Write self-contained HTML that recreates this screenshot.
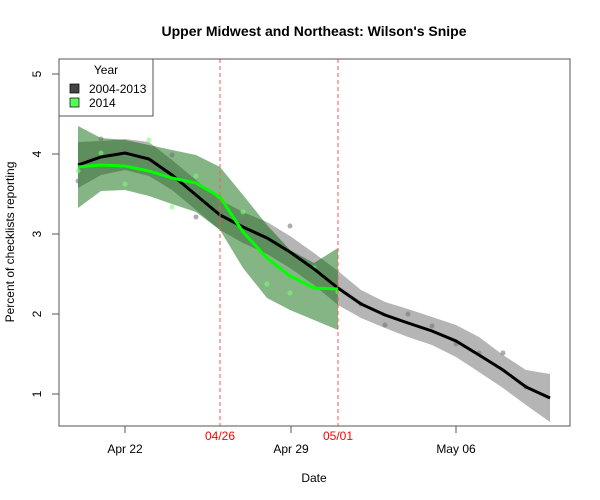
<!DOCTYPE html>
<html><head><meta charset="utf-8"><style>body{margin:0;background:#fff}svg{display:block;font-family:"Liberation Sans",sans-serif}</style></head><body>
<svg width="600" height="500" viewBox="0 0 600 500">
<text x="314" y="36" font-size="14" font-weight="bold" text-anchor="middle">Upper Midwest and Northeast: Wilson's Snipe</text>
<polygon fill="#b5b5b5" points="78,142 101,141 125,139 149,142 172,160 196,180 220,200 243,212 267,222 290,236 314,253 338,271 361,290 385,302 408,309 432,317 456,325 479,337 503,355 526,370 550,374 550,422 526,405 503,388 479,372 456,357 432,345 408,337 385,328 361,318 338,305 314,285 290,268 267,254 243,243 220,230 196,210 172,190 149,176 125,170 101,175 78,188"/>
<polygon fill="rgb(0,100,0)" fill-opacity="0.48" points="78,126 101,138 125,140 149,145 172,150 196,155 220,167 243,195 267,225 290,250 314,263 338,248 338,330 314,320 290,310 267,298 243,268 220,230 196,212 172,204 149,196 125,190 101,191 78,208"/>
<g fill="#777" fill-opacity="0.6">
<circle cx="78" cy="181" r="2.5"/><circle cx="101" cy="139" r="2.5"/><circle cx="125" cy="151" r="2.5"/><circle cx="149" cy="164" r="2.5"/><circle cx="172" cy="155" r="2.5"/><circle cx="196" cy="217" r="2.5"/><circle cx="220" cy="220" r="2.5"/><circle cx="243" cy="221" r="2.5"/><circle cx="290" cy="226" r="2.5"/><circle cx="361" cy="304" r="2.5"/><circle cx="385" cy="325" r="2.5"/><circle cx="408" cy="314" r="2.5"/><circle cx="432" cy="326" r="2.5"/><circle cx="456" cy="344" r="2.5"/><circle cx="479" cy="353" r="2.5"/><circle cx="503" cy="353" r="2.5"/><circle cx="526" cy="387" r="2.5"/>
</g>
<g fill="#7f7" fill-opacity="0.6">
<circle cx="78" cy="171" r="2.5"/><circle cx="101" cy="153" r="2.5"/><circle cx="125" cy="184" r="2.5"/><circle cx="149" cy="140" r="2.5"/><circle cx="172" cy="207" r="2.5"/><circle cx="196" cy="176" r="2.5"/><circle cx="243" cy="212" r="2.5"/><circle cx="267" cy="284" r="2.5"/><circle cx="290" cy="293" r="2.5"/><circle cx="314" cy="268" r="2.5"/><circle cx="338" cy="292" r="2.5"/>
</g>
<polyline fill="none" stroke="#000" stroke-width="3" points="78,165 101,157 125,153 149,159 172,175 196,195 220,215 243,227 267,238 290,252 314,269 338,288 361,304 385,315 408,323 432,331 456,341 479,355 503,370 526,387 550,398"/>
<polyline fill="none" stroke="#0f0" stroke-width="3" points="78,167 101,165 125,166 149,171 172,178 196,183 220,197 243,232 267,258 290,276 314,288 338,289"/>
<line x1="220" y1="59" x2="220" y2="426" stroke="#f55" stroke-dasharray="4,3"/>
<line x1="338" y1="59" x2="338" y2="426" stroke="#f55" stroke-dasharray="4,3"/>
<rect x="59" y="59" width="511" height="367" fill="none" stroke="#555"/>
<g stroke="#555"><line x1="52" y1="394" x2="59" y2="394"/><line x1="52" y1="314" x2="59" y2="314"/><line x1="52" y1="234" x2="59" y2="234"/><line x1="52" y1="154" x2="59" y2="154"/><line x1="52" y1="74" x2="59" y2="74"/>
<line x1="125" y1="426" x2="125" y2="433"/><line x1="291" y1="426" x2="291" y2="433"/><line x1="456" y1="426" x2="456" y2="433"/></g>
<g font-size="12" text-anchor="middle">
<text transform="translate(41,394) rotate(-90)">1</text><text transform="translate(41,314) rotate(-90)">2</text><text transform="translate(41,234) rotate(-90)">3</text><text transform="translate(41,154) rotate(-90)">4</text><text transform="translate(41,74) rotate(-90)">5</text>
<text x="125" y="453">Apr 22</text><text x="291" y="453">Apr 29</text><text x="456" y="453">May 06</text>
<text x="220" y="440" fill="#f00">04/26</text><text x="338" y="440" fill="#f00">05/01</text>
<text x="314" y="482">Date</text>
<text transform="translate(14,242) rotate(-90)">Percent of checklists reporting</text>
</g>
<rect x="59" y="59" width="94" height="57" fill="#fff" stroke="#555"/>
<g font-size="12"><text x="106" y="74" text-anchor="middle">Year</text><text x="89" y="93">2004-2013</text><text x="89" y="107">2014</text></g>
<rect x="70" y="84" width="9" height="9" fill="#444" stroke="#000" stroke-width="0.7"/>
<rect x="70" y="98" width="9" height="9" fill="#5f5" stroke="#000" stroke-width="0.7"/>
</svg>
</body></html>
